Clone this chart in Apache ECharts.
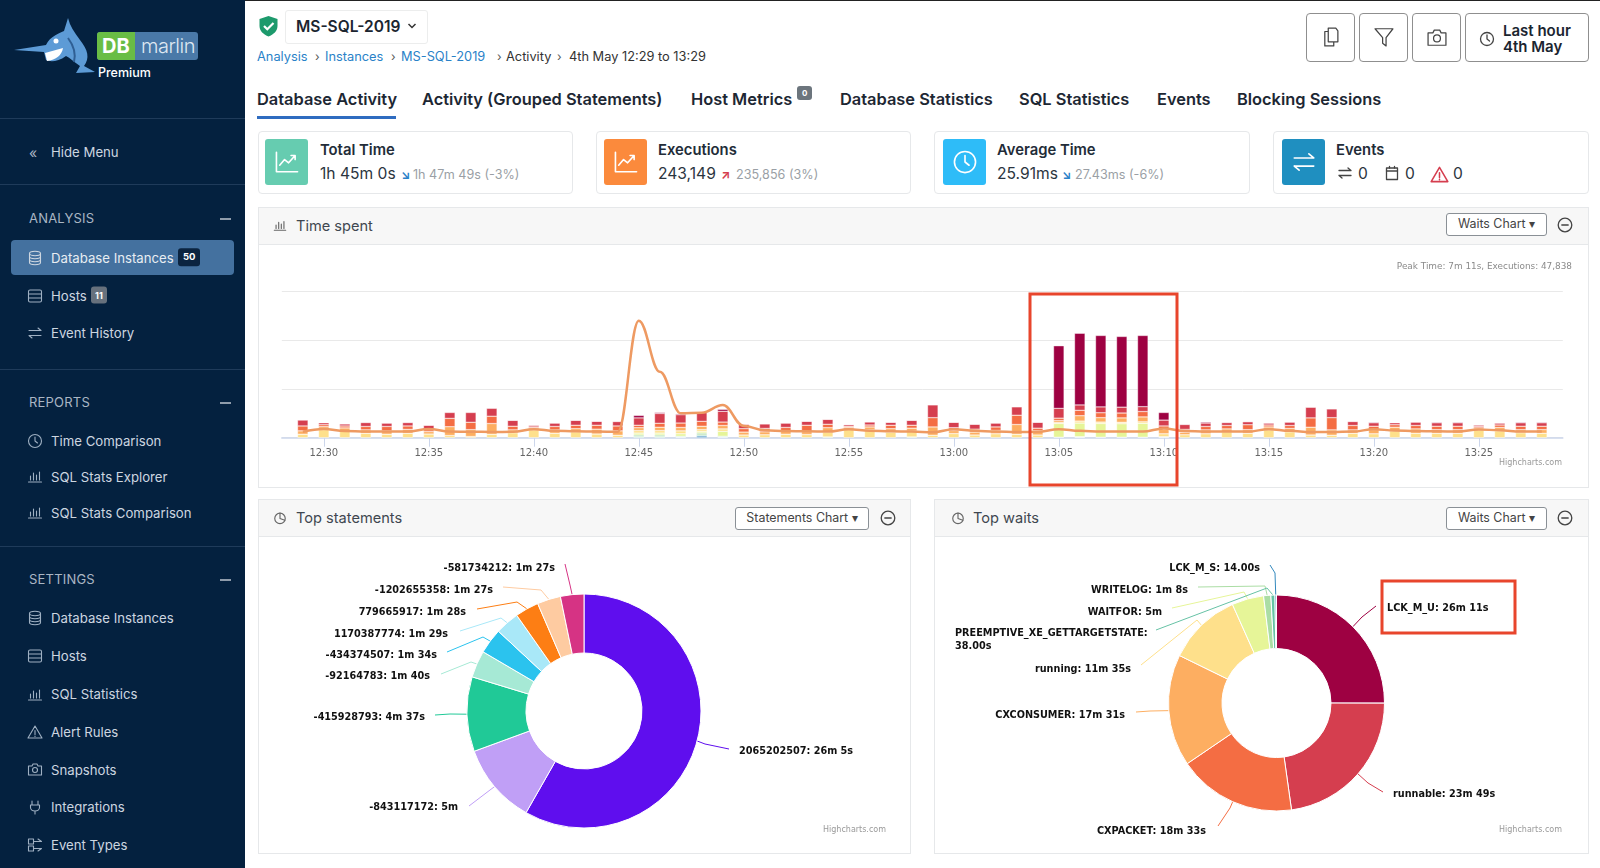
<!DOCTYPE html>
<html>
<head>
<meta charset="utf-8">
<title>DBmarlin</title>
<script src="https://cdn.jsdelivr.net/npm/echarts@6/dist/echarts.min.js"></script>
<style>
html, body { margin: 0; padding: 0; width: 1600px; height: 868px; overflow: hidden; background: #fff; font-family: Inter, "Noto Sans", sans-serif; color: #1b2530; }
.t { position: absolute; white-space: nowrap; line-height: 1; transform: translateY(-50%); }
.box { position: absolute; box-sizing: border-box; }
.ic { position: absolute; width: 16px; height: 16px; fill: none; stroke: currentColor; stroke-width: 1.3; stroke-linecap: round; stroke-linejoin: round; }
#side { position: absolute; left: 0; top: 0; width: 245px; height: 868px; background: #04213f; color: #9fb0c2; }
#side .ic { stroke-width: 1.1; }
#side .sep { position: absolute; left: 0; width: 245px; height: 1px; background: #1f3b5a; }
.nav { font-size: 13.2px; color: #cdd6e0; margin-top: 1px; }
.sec { font-size: 13px; color: #aab6c4; letter-spacing: .2px; }
.min { position: absolute; left: 220px; width: 11px; height: 1.5px; background: #8f9cab; }
.tab { font-size: 16.4px; font-weight: 600; color: #1d2733; top: 99px; }
.crumb { font-size: 12.8px; top: 57px; color: #333; }
.crumb.a { color: #2a82c8; }
.sp { font-size: 12px; top: 57px; color: #555; }
.card { border: 1px solid #e6e8ea; border-radius: 4px; top: 131px; height: 63px; background: #fff; }
.sq { position: absolute; top: 139px; width: 43px; height: 46px; border-radius: 3px; color: #fff; }
.sq svg { left: 9px; top: 10px; width: 26px; height: 26px; stroke-width: 1; }
.ct { font-size: 14.8px; font-weight: 600; top: 150px; color: #222c38; }
.cv { font-size: 15.6px; top: 174px; color: #2b3540; }
.cp { font-size: 12.6px; top: 175px; color: #9a9fa5; }
.panel { border: 1px solid #e6e8ea; background: #fff; }
.head { position: absolute; background: #f7f7f7; border: 1px solid #e6e8ea; height: 38px; box-sizing: border-box; }
.pt { font-size: 14.6px; color: #3f4750; }
.btn { border: 1px solid #8a9096; border-radius: 3px; background: #fff; height: 23px; font-size: 12.4px; color: #444; text-align: center; line-height: 20px; }
.tb { border: 1px solid #8f8f8f; border-radius: 4px; top: 13px; height: 49px; background: #fff; color: #444; }
#main { position: absolute; left: 0; top: 0; width: 1600px; height: 868px; }
</style>
</head>
<body>
<svg width="0" height="0" style="position:absolute">
  <symbol id="db" viewBox="0 0 16 16"><ellipse cx="8" cy="3.5" rx="5.5" ry="2.2"/><path d="M2.5 3.5v9c0 1.2 2.5 2.2 5.5 2.2s5.500-1 5.500-2.200v-9M2.500 6.500c0 1.200 2.500 2.200 5.500 2.200s5.500-1 5.500-2.200M2.500 9.500c0 1.200 2.500 2.200 5.500 2.200s5.500-1 5.500-2.200"/></symbol>
  <symbol id="host" viewBox="0 0 16 16"><rect x="1.500" y="2" width="13" height="12" rx="1.500"/><path d="M1.500 6h13M1.500 10h13"/></symbol>
  <symbol id="swap" viewBox="0 0 16 16"><path d="M2 5.500h12M11 3l3 2.500M14 10.500H2M5 13l-3-2.500"/></symbol>
  <symbol id="clock" viewBox="0 0 16 16"><circle cx="8" cy="8" r="6.500"/><path d="M8 4v4l2.500 2"/></symbol>
  <symbol id="bars" viewBox="0 0 16 16"><path d="M1.500 14h13M3.500 12V8M6.500 12V5M9.500 12V7M12.500 12V4"/></symbol>
  <symbol id="warn" viewBox="0 0 16 16"><path d="M8 2L15 14H1ZM8 6.500v4M8 12v.5"/></symbol>
  <symbol id="cam" viewBox="0 0 16 16"><path d="M1.500 5h3.500l1-2h4l1 2h3.500v9h-13Z"/><circle cx="8" cy="9" r="2.500"/></symbol>
  <symbol id="plug" viewBox="0 0 16 16"><path d="M5 2v4M11 2v4M3.500 6h9v2.500c0 2-2 3.500-4.500 3.500S3.500 10.500 3.500 8.500ZM8 12v3"/></symbol>
  <symbol id="types" viewBox="0 0 16 16"><rect x="1.500" y="2" width="5" height="5"/><rect x="1.500" y="9" width="5" height="5"/><path d="M6.500 4.500h8M6.500 11.500h8M11 2l3.500 2.500M11 14l3.500-2.500"/></symbol>
  <symbol id="copy" viewBox="0 0 16 16"><path d="M6 1.500h5.500l1.500 2v8H6ZM6 4H3.500v10.500H10v-3"/></symbol>
  <symbol id="fun" viewBox="0 0 16 16"><path d="M1.500 2h13L9.500 8.500V14.500L7 12.500V8.500Z"/></symbol>
  <symbol id="trend" viewBox="0 0 16 16"><path d="M1.500 2v12h13M3.500 10l3-3.500 2.500 2 4-4.500M10.500 4h2.500v2.500"/></symbol>
  <symbol id="pie" viewBox="0 0 16 16"><circle cx="8" cy="8.500" r="6"/><path d="M8 8.500V2.500M8 8.500l5.500 2"/></symbol>
  <symbol id="cal" viewBox="0 0 16 16"><rect x="2.500" y="3" width="11" height="11.500"/><path d="M2.500 6h11M5.500 1.500V3M10.500 1.500V3"/></symbol>
  <symbol id="mc" viewBox="0 0 16 16"><circle cx="8" cy="8" r="6.800"/><path d="M4.800 8h6.400"/></symbol>
</svg>

<div id="side">
  <svg style="position:absolute;left:0;top:0" width="100" height="80">
    <path d="M14 50 L46 45 C50 36 60 33 64 31 L68 18 C70 26 74 32 80 40 C88 50 90 58 84 66 L95 72 L76 73 L80 66 C74 62 70 58 66 56 C58 62 50 62 46 60 L44 52 Z" fill="#5d9bd6"/>
    <path d="M68 38 C74 46 76 54 74 62" fill="none" stroke="#2f5f94" stroke-width="2"/>
    <path d="M45 53 L63 48 C62 55 56 60 47 61 Z" fill="#fff"/>
    <circle cx="56" cy="41" r="2.500" fill="#fff"/>
  </svg>
  <div class="box" style="left:97px;top:32px;width:101px;height:28px;background:#4a79a8;border-radius:3px"></div>
  <div class="box" style="left:97px;top:32px;width:38px;height:28px;background:#69bd45;border-radius:3px 0 0 3px"></div>
  <div class="t" style="left:102px;top:46px;font-size:20px;font-weight:700;color:#fff">DB</div>
  <div class="t" style="left:141px;top:46px;font-size:20px;font-weight:300;color:#dfe8f2;letter-spacing:-.5px">marlin</div>
  <div class="t" style="left:98px;top:73px;font-size:12.500px;font-weight:500;color:#fff">Premium</div>
  <div class="sep" style="top:118px"></div>
  <div class="t nav" style="left:29px;top:152px;font-size:14px;color:#aab6c4">&#171;</div>
  <div class="t nav" style="left:51px;top:152px">Hide Menu</div>
  <div class="sep" style="top:184px"></div>

  <div class="t sec" style="left:29px;top:218px">ANALYSIS</div><div class="min" style="top:218px"></div>
  <div class="box" style="left:11px;top:240px;width:223px;height:35px;background:#44719f;border-radius:4px"></div>
  <svg class="ic" style="left:27px;top:250px;color:#cdd6e0"><use href="#db"/></svg><div class="t nav" style="left:51px;top:258px;color:#e8edf2">Database Instances</div>
  <div class="t" style="left:178px;top:257px;background:#0b2440;color:#fff;font-size:9.500px;font-weight:700;padding:4px 5px;border-radius:3px">50</div>
  <svg class="ic" style="left:27px;top:288px"><use href="#host"/></svg><div class="t nav" style="left:51px;top:296px">Hosts</div>
  <div class="t" style="left:91px;top:295px;background:#67717d;color:#fff;font-size:9px;font-weight:700;padding:4px 4px;border-radius:3px">11</div>
  <svg class="ic" style="left:27px;top:325px"><use href="#swap"/></svg><div class="t nav" style="left:51px;top:333px">Event History</div>
  <div class="sep" style="top:369px"></div>

  <div class="t sec" style="left:29px;top:402px">REPORTS</div><div class="min" style="top:402px"></div>
  <svg class="ic" style="left:27px;top:433px"><use href="#clock"/></svg><div class="t nav" style="left:51px;top:441px">Time Comparison</div>
  <svg class="ic" style="left:27px;top:468px"><use href="#bars"/></svg><div class="t nav" style="left:51px;top:477px">SQL Stats Explorer</div>
  <svg class="ic" style="left:27px;top:504px"><use href="#bars"/></svg><div class="t nav" style="left:51px;top:513px">SQL Stats Comparison</div>
  <div class="sep" style="top:546px"></div>

  <div class="t sec" style="left:29px;top:579px">SETTINGS</div><div class="min" style="top:579px"></div>
  <svg class="ic" style="left:27px;top:610px"><use href="#db"/></svg><div class="t nav" style="left:51px;top:618px">Database Instances</div>
  <svg class="ic" style="left:27px;top:648px"><use href="#host"/></svg><div class="t nav" style="left:51px;top:656px">Hosts</div>
  <svg class="ic" style="left:27px;top:686px"><use href="#bars"/></svg><div class="t nav" style="left:51px;top:694px">SQL Statistics</div>
  <svg class="ic" style="left:27px;top:724px"><use href="#warn"/></svg><div class="t nav" style="left:51px;top:732px">Alert Rules</div>
  <svg class="ic" style="left:27px;top:761px"><use href="#cam"/></svg><div class="t nav" style="left:51px;top:770px">Snapshots</div>
  <svg class="ic" style="left:27px;top:799px"><use href="#plug"/></svg><div class="t nav" style="left:51px;top:807px">Integrations</div>
  <svg class="ic" style="left:27px;top:837px"><use href="#types"/></svg><div class="t nav" style="left:51px;top:845px">Event Types</div>
</div>

<div class="box" style="left:245px;top:0;width:1355px;height:1px;background:#222"></div>
<svg style="position:absolute;left:258px;top:15px" width="21" height="22" viewBox="0 0 21 22"><path d="M10.500 1L19.500 4V11C19.500 16 15.500 19.500 10.500 21.500C5.500 19.500 1.500 16 1.500 11V4Z" fill="#1d9a6c"/><path d="M6 11l3.300 3.300L15.500 8" fill="none" stroke="#fff" stroke-width="2.200"/></svg>
<div class="box" style="left:285px;top:10px;width:143px;height:34px;border:1px solid #eceded;border-radius:3px"></div>
<div class="t" style="left:296px;top:27px;font-size:15.500px;font-weight:600">MS-SQL-2019</div>
<svg style="position:absolute;left:407px;top:22px" width="10" height="8"><path d="M1.500 2l3.500 3.500L8.500 2" fill="none" stroke="#333" stroke-width="1.500"/></svg>

<div class="t crumb a" style="left:257px">Analysis</div><div class="t sp" style="left:315px">&#8250;</div>
<div class="t crumb a" style="left:325px">Instances</div><div class="t sp" style="left:391px">&#8250;</div>
<div class="t crumb a" style="left:401px">MS-SQL-2019</div><div class="t sp" style="left:497px">&#8250;</div>
<div class="t crumb" style="left:506px">Activity</div><div class="t sp" style="left:557px">&#8250;</div>
<div class="t crumb" style="left:569px">4th May 12:29 to 13:29</div>

<div class="box tb" style="left:1306px;width:49px"><svg class="ic" style="left:13px;top:12px;width:22px;height:22px;stroke-width:.9"><use href="#copy"/></svg></div>
<div class="box tb" style="left:1359px;width:49px"><svg class="ic" style="left:13px;top:12px;width:22px;height:22px;stroke-width:.9"><use href="#fun"/></svg></div>
<div class="box tb" style="left:1412px;width:49px"><svg class="ic" style="left:13px;top:12px;width:22px;height:22px;stroke-width:.9"><use href="#cam"/></svg></div>
<div class="box tb" style="left:1465px;width:124px"><svg class="ic" style="left:13px;top:17px"><use href="#clock"/></svg></div>
<div class="t" style="left:1503px;top:30px;font-size:15px;font-weight:600">Last hour</div>
<div class="t" style="left:1503px;top:46px;font-size:15px;font-weight:600">4th May</div>

<div class="t tab" style="left:257px">Database Activity</div>
<div class="box" style="left:257px;top:116px;width:139px;height:3px;background:#2f6cc0"></div>
<div class="t tab" style="left:422px">Activity (Grouped Statements)</div>
<div class="t tab" style="left:691px">Host Metrics</div>
<div class="t" style="left:797px;top:93px;background:#6c757d;color:#fff;font-size:8px;font-weight:700;padding:3px 5px;border-radius:3px">0</div>
<div class="t tab" style="left:840px">Database Statistics</div>
<div class="t tab" style="left:1019px">SQL Statistics</div>
<div class="t tab" style="left:1157px">Events</div>
<div class="t tab" style="left:1237px">Blocking Sessions</div>

<div class="box card" style="left:258px;width:315px"></div>
<div class="sq" style="left:265px;background:#66ccb0"><svg class="ic"><use href="#trend"/></svg></div>
<div class="t ct" style="left:320px">Total Time</div>
<div class="t cv" style="left:320px">1h 45m 0s</div>
<div class="t" style="left:401px;top:175px;font-size:12px;font-weight:700;color:#2a82c8">&#8600;</div>
<div class="t cp" style="left:413px">1h 47m 49s (-3%)</div>

<div class="box card" style="left:596px;width:315px"></div>
<div class="sq" style="left:604px;background:#fb8a3c"><svg class="ic"><use href="#trend"/></svg></div>
<div class="t ct" style="left:658px">Executions</div>
<div class="t cv" style="left:658px">243,149</div>
<div class="t" style="left:721px;top:175px;font-size:12px;font-weight:700;color:#d53e4f">&#8599;</div>
<div class="t cp" style="left:736px">235,856 (3%)</div>

<div class="box card" style="left:934px;width:316px"></div>
<div class="sq" style="left:943px;background:#2ebcf8"><svg class="ic"><use href="#clock"/></svg></div>
<div class="t ct" style="left:997px">Average Time</div>
<div class="t cv" style="left:997px">25.91ms</div>
<div class="t" style="left:1062px;top:175px;font-size:12px;font-weight:700;color:#2a82c8">&#8600;</div>
<div class="t cp" style="left:1075px">27.43ms (-6%)</div>

<div class="box card" style="left:1273px;width:316px"></div>
<div class="sq" style="left:1282px;background:#1f8fc0"><svg class="ic"><use href="#swap"/></svg></div>
<div class="t ct" style="left:1336px">Events</div>
<svg class="ic" style="left:1337px;top:165px;color:#444"><use href="#swap"/></svg><div class="t cv" style="left:1358px">0</div>
<svg class="ic" style="left:1384px;top:165px;color:#444"><use href="#cal"/></svg><div class="t cv" style="left:1405px">0</div>
<svg class="ic" style="left:1430px;top:165px;width:19px;height:19px;color:#d53e4f"><use href="#warn"/></svg><div class="t cv" style="left:1453px">0</div>

<div class="box panel" style="left:258px;top:207px;width:1331px;height:281px"></div>
<div class="head" style="left:258px;top:207px;width:1331px"></div>
<svg class="ic" style="left:273px;top:218px;width:14px;height:14px;color:#666"><use href="#bars"/></svg>
<div class="t pt" style="left:296px;top:226px">Time spent</div>
<div class="box btn" style="left:1446px;top:213px;width:101px">Waits Chart &#9662;</div>
<svg class="ic" style="left:1557px;top:217px;color:#444"><use href="#mc"/></svg>

<div class="box panel" style="left:258px;top:499px;width:653px;height:355px"></div>
<div class="head" style="left:258px;top:499px;width:653px"></div>
<svg class="ic" style="left:273px;top:511px;width:14px;height:14px;color:#666"><use href="#pie"/></svg>
<div class="t pt" style="left:296px;top:518px">Top statements</div>
<div class="box btn" style="left:735px;top:507px;width:134px">Statements Chart &#9662;</div>
<svg class="ic" style="left:880px;top:510px;color:#444"><use href="#mc"/></svg>

<div class="box panel" style="left:934px;top:499px;width:655px;height:355px"></div>
<div class="head" style="left:934px;top:499px;width:655px"></div>
<svg class="ic" style="left:951px;top:511px;width:14px;height:14px;color:#666"><use href="#pie"/></svg>
<div class="t pt" style="left:973px;top:518px">Top waits</div>
<div class="box btn" style="left:1446px;top:507px;width:101px">Waits Chart &#9662;</div>
<svg class="ic" style="left:1557px;top:510px;color:#444"><use href="#mc"/></svg>

<div id="main"></div>

<script>
// minutes of the hour, the two ends carry no bar
var minutes = ['12:28','12:29','12:30','12:31','12:32','12:33','12:34','12:35','12:36','12:37','12:38',
    '12:39','12:40','12:41','12:42','12:43','12:44','12:45','12:46','12:47','12:48',
    '12:49','12:50','12:51','12:52','12:53','12:54','12:55','12:56','12:57','12:58',
    '12:59','13:00','13:01','13:02','13:03','13:04','13:05','13:06','13:07','13:08',
    '13:09','13:10','13:11','13:12','13:13','13:14','13:15','13:16','13:17','13:18',
    '13:19','13:20','13:21','13:22','13:23','13:24','13:25','13:26','13:27','13:28','13:29'];

// seconds per minute, 12:29 to 13:28
var lckMU = [0,0,0,2,1,2,1,0,0,0, 1,0,1,1,1,2,10,4,4,3, 8,1,0,1,1,1,0,0,1,1, 0,1,1,1,0,1,256,293,292,289, 291,31,2,4,2,2,1,1,1,1, 2,3,0,1,3,3,1,1,3,3];
var runnable = [24,8,8,16,14,14,18,24,40,32, 24,6,14,20,16,18,30,40,34,36, 44,18,18,18,16,20,6,12,12,20, 52,22,20,16,34,24,40,22,24,24, 20,24,20,14,12,12,8,14,44,36, 16,14,8,14,14,14,6,8,14,14];
var cxPacket = [20,8,8,14,18,14,8,34,30,30, 15,4,14,14,16,20,10,16,18,20, 14,14,14,14,26,14,5,8,14,12, 38,12,12,14,38,10,10,22,20,20, 22,14,12,14,14,20,8,12,38,50, 18,14,10,14,14,14,6,10,14,14];
var cxConsumer = [14,12,12,14,14,16,10,36,28,44, 12,8,14,13,20,18,12,14,14,14, 14,12,12,14,12,18,8,12,14,12, 34,12,12,14,40,18,8,22,18,18, 20,18,10,16,12,15,12,14,32,22, 14,17,15,18,15,15,8,14,13,15];
var running = [14,33,28,18,14,18,15,9,5,14, 20,32,18,24,15,10,10,10,12,8, 10,11,12,14,13,20,34,32,23,24, 10,17,11,16,14,11,4,8,6,6, 6,12,12,16,24,18,32,24,11,10, 18,16,28,18,18,18,32,28,20,18];
var waitFor = [0,0,0,0,0,0,0,0,0,0, 0,0,0,0,0,0,8,8,10,6, 20,0,0,0,0,3,0,0,0,3, 0,0,0,0,0,0,56,56,56,55, 57,0,0,0,0,0,0,0,0,0, 0,0,0,0,0,0,0,0,0,0];
var writeLog = [0,0,0,0,0,0,0,0,0,0, 0,0,0,0,0,0,7,7,4,8, 4,0,0,0,0,0,0,0,0,0, 0,0,0,0,0,0,2,2,2,2, 2,2,0,0,0,0,0,0,0,0, 0,0,0,0,0,0,0,0,0,0];
var preemptive = [0,0,0,0,0,0,0,0,0,0, 0,0,0,0,0,0,3,3,2,4, 2,0,0,0,0,0,0,0,0,0, 0,0,0,0,0,0,0,2,0,0, 0,2,0,0,0,0,0,0,0,0, 0,0,0,0,0,0,0,0,0,0];
var lckMS = [0,0,0,0,0,0,0,0,0,0, 0,0,0,0,0,0,1,1,0,7, 0,0,0,0,0,0,0,0,0,0, 0,0,0,0,0,0,0,0,0,0, 0,0,0,0,0,0,0,0,0,0, 0,0,0,0,0,0,0,0,0,0];

// executions per minute, the orange line
var executions = [2450,3550,2700,2500,2500,2500,3550,2500,2450,2350, 2400,3500,2800,2600,2500,2450,47838,27000,9950,10200,
    13350,4800,3000,2700,2600,2500,3450,2800,2600,2500, 2200,3450,2800,2500,2300,2450,3500,2800,2500,2500,
    2500,3800,2700,2500,2500,2500,3500,2800,2300,2300, 2500,3500,2900,2700,2600,2500,3400,3000,2500,2500];

var waitNames = ['LCK_M_U','runnable','CXPACKET','CXCONSUMER','running','WAITFOR','WRITELOG','PREEMPTIVE_XE_GETTARGETSTATE','LCK_M_S'];
var waitSeconds = [1571,1429,1113,1051,695,300,68,38,14];
var waitColors = ['#9e0142','#d53e4f','#f46d43','#fdae61','#fee08b','#e6f598','#abdda4','#66c2a5','#3288bd'];

var statementNames = ['2065202507','-843117172','-415928793','-92164783','-434374507','1170387774','779665917','-1202655358','-581734212'];
var statementSeconds = [1565,300,277,100,94,89,88,87,87];
var statementColors = ['#5f0eee','#c09ff6','#20c997','#a6e9d5','#2bc3ee','#a9e8f8','#fd7e14','#fecba1','#d63384'];

// label anchor [x, y, align], then connector elbow and end, page pixels
var statementLabels = [
    [739, 751, 'left', 705, 744, 729, 749],
    [458, 807, 'right', 490, 790, 469, 806],
    [425, 717, 'right', 450, 714, 435, 715],
    [430, 676, 'right', 471, 662, 441, 674],
    [437, 655, 'right', 483, 637, 447, 652],
    [448, 634, 'right', 501, 618, 460, 631],
    [466, 612, 'right', 517, 602, 477, 609],
    [493, 590, 'right', 541, 590, 503, 587],
    [555, 568, 'right', 570, 585, 565, 564]
];
var waitLabels = [
    [1387, 608, 'left', 1362, 617, 1376, 606],
    [1393, 794, 'left', 1368, 783, 1383, 792],
    [1206, 831, 'right', 1230, 808, 1218, 826],
    [1125, 715, 'right', 1150, 711, 1136, 712],
    [1131, 669, 'right', 1197, 620, 1141, 665],
    [1162, 612, 'right', 1244, 592, 1172, 608],
    [1188, 590, 'right', 1265, 586, 1198, 587],
    [955, 640, 'left', 1267, 588, 1156, 630],
    [1260, 568, 'right', 1275, 573, 1270, 565]
];

function pad(values) {
    // zero means no segment at all in that minute
    return [null].concat(values.map(function (v) { return v === 0 ? null : v; }), [null]);
}

function timeText(sec) {
    if (sec < 60) return sec.toFixed(2) + 's';
    var m = Math.floor(sec / 60), s = sec % 60;
    return s === 0 ? m + 'm' : m + 'm ' + s + 's';
}

function pieSlices(names, seconds, colors) {
    return names.map(function (name, i) {
        return { name: name, value: seconds[i], itemStyle: { color: colors[i] } };
    });
}

function pieSeries(names, seconds, colors, spots, center, radius) {
    return {
        type: 'pie',
        center: center,
        radius: radius,
        startAngle: 90,
        avoidLabelOverlap: false,
        silent: true,
        data: pieSlices(names, seconds, colors),
        itemStyle: { borderColor: '#fff', borderWidth: 1 },
        label: {
            show: true,
            position: 'outside',
            fontFamily: 'DejaVu Sans',
            fontSize: 9.7,
            fontWeight: 'bold',
            lineHeight: 13,
            color: '#111',
            formatter: function (p) {
                var sep = p.name.length > 20 ? ':\n' : ': ';
                return p.name + sep + timeText(p.value);
            }
        },
        labelLine: { show: true, length: 10, length2: 10, lineStyle: { width: 1 } },
        labelLayout: function (p) {
            var s = spots[p.dataIndex];
            return {
                x: s[0], y: s[1], align: s[2], verticalAlign: 'middle',
                labelLinePoints: [p.labelLinePoints[0], [s[3], s[4]], [s[5], s[6]]]
            };
        }
    };
}

var barRows = [
    ['LCK_M_S', lckMS, 8], ['PREEMPTIVE_XE_GETTARGETSTATE', preemptive, 7], ['WRITELOG', writeLog, 6],
    ['WAITFOR', waitFor, 5], ['running', running, 4], ['CXCONSUMER', cxConsumer, 3],
    ['CXPACKET', cxPacket, 2], ['runnable', runnable, 1], ['LCK_M_U', lckMU, 0]
];

var series = barRows.map(function (r) {
    return {
        name: r[0], type: 'bar', stack: 'waits', barWidth: 10.5, silent: true,
        data: pad(r[1]),
        itemStyle: { color: waitColors[r[2]], borderColor: '#fff', borderWidth: 0.4 }
    };
});
series.push({
    name: 'Executions', type: 'line', yAxisIndex: 1, smooth: 0.4, smoothMonotone: 'x', symbol: 'none', z: 5, silent: true,
    data: [null].concat(executions, [null]),
    lineStyle: { color: '#ee9a62', width: 2.5 }
});
series.push(pieSeries(statementNames, statementSeconds, statementColors, statementLabels, [584, 711], [58, 117]));
series.push(pieSeries(waitNames, waitSeconds, waitColors, waitLabels, [1276.5, 703], [54.5, 108]));

function fiveMinute(i, v) { return /[05]$/.test(v); }

var option = {
    animation: false,
    grid: { left: 281.8, top: 291, width: 1281, height: 146.7 },
    xAxis: {
        type: 'category', boundaryGap: false, data: minutes,
        axisLine: { lineStyle: { color: '#ccd6eb', width: 1.5 } },
        axisTick: { interval: fiveMinute, length: 9, lineStyle: { color: '#ccd6eb' } },
        axisLabel: { interval: fiveMinute, color: '#666', fontFamily: 'DejaVu Sans', fontSize: 10, margin: 11 }
    },
    yAxis: [
        { type: 'value', min: 0, max: 600, interval: 200, axisLabel: { show: false },
          splitLine: { lineStyle: { color: '#e9e9e9' } } },
        { type: 'value', min: 0, max: 60000, interval: 20000, axisLabel: { show: false }, splitLine: { show: false } }
    ],
    series: series,
    graphic: { elements: [
        { type: 'text', x: 1572, y: 267, z: 50, style: { text: 'Peak Time: 7m 11s, Executions: 47,838', fill: '#8a8a8a', font: '8.9px "DejaVu Sans"', textAlign: 'right', textVerticalAlign: 'middle' } },
        { type: 'text', x: 1562, y: 463, z: 50, style: { text: 'Highcharts.com', fill: '#999', font: '8px "DejaVu Sans"', textAlign: 'right', textVerticalAlign: 'middle' } },
        { type: 'text', x: 886, y: 830, z: 50, style: { text: 'Highcharts.com', fill: '#999', font: '8px "DejaVu Sans"', textAlign: 'right', textVerticalAlign: 'middle' } },
        { type: 'text', x: 1562, y: 830, z: 50, style: { text: 'Highcharts.com', fill: '#999', font: '8px "DejaVu Sans"', textAlign: 'right', textVerticalAlign: 'middle' } },
        { type: 'rect', z: 60, shape: { x: 1030, y: 294, width: 147, height: 191 }, style: { fill: 'transparent', stroke: '#e8452c', lineWidth: 3 } },
        { type: 'rect', z: 60, shape: { x: 1382, y: 581, width: 133, height: 52 }, style: { fill: 'transparent', stroke: '#e8452c', lineWidth: 3 } }
    ] }
};

var myChart = echarts.init(document.getElementById('main'));
myChart.setOption(option);
</script>
</body>
</html>
